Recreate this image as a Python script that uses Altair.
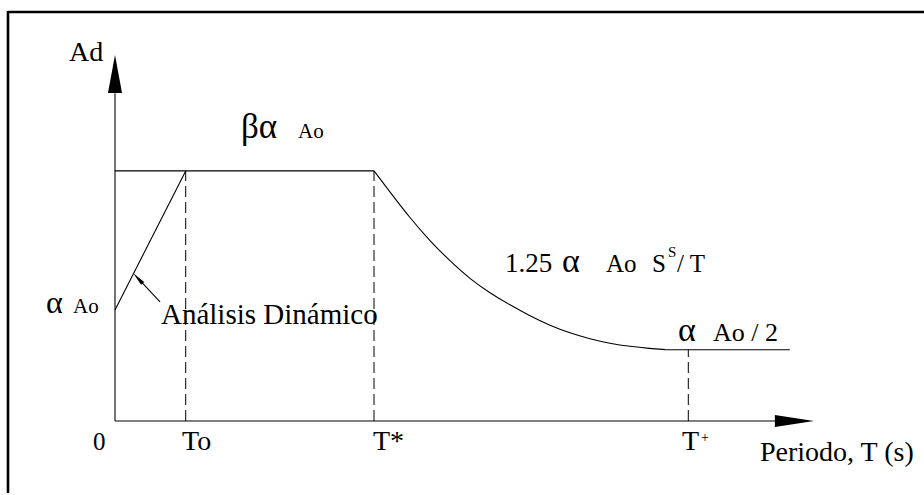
import altair as alt
import pandas as pd

# ---- spectrum values (T and Ad in arbitrary drawing units) ----
rise_T = [0.0, 10.1]
rise_Ad = [30.0, 67.6]

plateau_T = [0.0, 37.0]
plateau_Ad = [67.6, 67.6]

decay_T = [37.0, 39.29, 42.14, 45.0, 47.86, 50.71, 53.57, 56.43, 59.29, 62.14,
           65.0, 67.86, 70.71, 73.57, 76.43, 78.57]
decay_Ad = [67.6, 61.89, 54.86, 48.65, 43.24, 38.38, 34.59, 31.35, 28.38, 25.81,
            23.78, 22.16, 20.95, 20.14, 19.59, 19.3]

tail_T = [78.57, 96.4]
tail_Ad = [19.25, 19.25]

# characteristic periods and the spectral level at each
period_names = ["To", "T*", "T+"]
period_T = [10.1, 37.0, 81.9]
period_top = [67.6, 67.6, 19.25]

# axis extents
y_axis_top = 88.6
x_axis_end = 94.3

# ---- scale layout ----
W, H = 924, 495
X0_PX, PX_PER_T = 115, 7.0
Y0_PX, PX_PER_AD = 421, 3.7
x_dom = [-X0_PX / PX_PER_T, (W - X0_PX) / PX_PER_T]
y_dom = [-(H - Y0_PX) / PX_PER_AD, Y0_PX / PX_PER_AD]

FONT = "Liberation Serif"


def X(field="T"):
    return alt.X(f"{field}:Q", scale=alt.Scale(domain=x_dom, nice=False, zero=False), axis=None)


def Y(field="Ad"):
    return alt.Y(f"{field}:Q", scale=alt.Scale(domain=y_dom, nice=False, zero=False), axis=None)


def line_layer(ts, ads, **kw):
    df = pd.DataFrame({"T": ts, "Ad": ads, "i": range(len(ts))})
    return alt.Chart(df).mark_line(color="black", strokeWidth=1.1, **kw).encode(
        x=X(), y=Y(), order="i:Q")


# spectrum branches
rise = line_layer(rise_T, rise_Ad)
plateau = line_layer(plateau_T, plateau_Ad)
decay = line_layer(decay_T, decay_Ad, interpolate="basis")
tail = line_layer(tail_T, tail_Ad)

# dashed guides at the characteristic periods
guides_df = pd.DataFrame({"T": period_T, "Ad": [0.0] * 3, "Ad2": period_top})
guides = alt.Chart(guides_df).mark_rule(color="black", strokeWidth=1, strokeDash=[11, 5]).encode(
    x=X(), y=Y(), y2="Ad2:Q")

# axes with arrowheads
axes_df = pd.DataFrame({"T": [0.0, 0.0], "Ad": [0.0, 0.0], "T2": [0.0, x_axis_end], "Ad2": [y_axis_top, 0.0]})
axes = alt.Chart(axes_df).mark_rule(color="black", strokeWidth=1.1).encode(
    x=X(), y=Y(), x2="T2:Q", y2="Ad2:Q")

y_head = alt.Chart(pd.DataFrame({"T": [0.0], "Ad": [y_axis_top + 5.2]})).mark_point(
    shape="M0,-1L-0.37,1L0.37,1Z", filled=True, size=1444, color="black", opacity=1, strokeWidth=0
).encode(x=X(), y=Y())

x_head = alt.Chart(pd.DataFrame({"T": [x_axis_end + 2.75], "Ad": [0.0]})).mark_point(
    shape="M0,-1L-0.31,1L0.31,1Z", filled=True, size=1521, angle=90, color="black", opacity=1, strokeWidth=0
).encode(x=X(), y=Y())

# leader arrow for the dynamic-analysis note
leader = line_layer([6.43, 3.26], [32.2, 38.6])
leader_head = alt.Chart(pd.DataFrame({"T": [3.26], "Ad": [38.6]})).mark_point(
    shape="M0,-1L-0.3,1L0.3,1Z", filled=True, size=200, angle=317, color="black", opacity=1, strokeWidth=0
).encode(x=X(), y=Y())

# ---- text ----
labels = pd.DataFrame([
    {"text": "Ad", "T": -6.57, "Ad": 97.3, "size": 28},
    {"text": "βα", "T": 18.0, "Ad": 76.5, "size": 35},
    {"text": "Ao", "T": 26.14, "Ad": 76.5, "size": 21},
    {"text": "α", "T": -9.86, "Ad": 29.2, "size": 32},
    {"text": "Ao", "T": -6.0, "Ad": 29.2, "size": 21},
    {"text": "Análisis Dinámico", "T": 6.57, "Ad": 26.2, "size": 29},
    {"text": "1.25", "T": 55.71, "Ad": 40.3, "size": 27},
    {"text": "α", "T": 63.86, "Ad": 40.3, "size": 34},
    {"text": "Ao", "T": 70.14, "Ad": 40.3, "size": 25},
    {"text": "S", "T": 76.71, "Ad": 40.3, "size": 25},
    {"text": "S", "T": 79.0, "Ad": 44.3, "size": 15},
    {"text": "/ T", "T": 80.29, "Ad": 40.3, "size": 25},
    {"text": "α", "T": 80.43, "Ad": 21.6, "size": 34},
    {"text": "Ao / 2", "T": 85.43, "Ad": 21.6, "size": 26},
    {"text": "0", "T": -3.14, "Ad": -7.84, "size": 25},
    {"text": "To", "T": 9.57, "Ad": -7.84, "size": 28},
    {"text": "T*", "T": 36.86, "Ad": -7.84, "size": 28},
    {"text": "T", "T": 81.0, "Ad": -7.84, "size": 28},
    {"text": "+", "T": 83.7, "Ad": -5.6, "size": 14},
    {"text": "Periodo, T (s)", "T": 92.14, "Ad": -10.8, "size": 28},
])
text = alt.Chart(labels).mark_text(align="left", baseline="alphabetic", font=FONT, color="black").encode(
    x=X(), y=Y(), text="text:N", size=alt.Size("size:Q", scale=None, legend=None))

# ---- partial frame along the top and left edges ----
frame_top = alt.Chart(pd.DataFrame({"k": [0]})).mark_rule(color="black", strokeWidth=2.6).encode(
    x=alt.value(8), x2=alt.value(W), y=alt.value(12))
frame_left = alt.Chart(pd.DataFrame({"k": [0]})).mark_rule(color="black", strokeWidth=2.6).encode(
    x=alt.value(8), y=alt.value(11), y2=alt.value(493))

chart = alt.layer(
    frame_top, frame_left, guides, axes, y_head, x_head,
    rise, plateau, decay, tail, leader, leader_head, text
).properties(
    width=W, height=H, padding=0, background="white",
    autosize=alt.AutoSizeParams(type="none")
).configure_view(stroke=None)

chart.save("out.html", embed_options={"renderer": "svg", "actions": False})
